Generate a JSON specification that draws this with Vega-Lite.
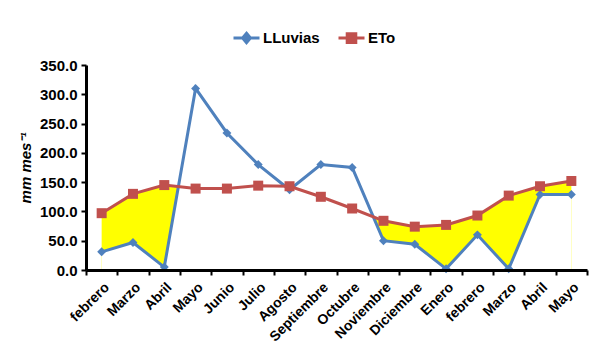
{
  "$schema": "https://vega.github.io/schema/vega-lite/v6.json",
  "width": 501,
  "height": 205,
  "autosize": "none",
  "padding": {"left": 86, "top": 65, "right": 11, "bottom": 93},
  "background": "white",
  "config": {"font": "Liberation Sans", "view": {"stroke": null}},
  "data": {
    "values": [
      {"idx": 0, "serie": "LLuvias", "value": 31}, {"idx": 0, "serie": "ETo", "value": 97},
      {"idx": 1, "serie": "LLuvias", "value": 47}, {"idx": 1, "serie": "ETo", "value": 130},
      {"idx": 2, "serie": "LLuvias", "value": 5}, {"idx": 2, "serie": "ETo", "value": 145},
      {"idx": 3, "serie": "LLuvias", "value": 310}, {"idx": 3, "serie": "ETo", "value": 139},
      {"idx": 4, "serie": "LLuvias", "value": 234}, {"idx": 4, "serie": "ETo", "value": 139},
      {"idx": 5, "serie": "LLuvias", "value": 180}, {"idx": 5, "serie": "ETo", "value": 144},
      {"idx": 6, "serie": "LLuvias", "value": 137}, {"idx": 6, "serie": "ETo", "value": 143},
      {"idx": 7, "serie": "LLuvias", "value": 180}, {"idx": 7, "serie": "ETo", "value": 125},
      {"idx": 8, "serie": "LLuvias", "value": 175}, {"idx": 8, "serie": "ETo", "value": 105},
      {"idx": 9, "serie": "LLuvias", "value": 50}, {"idx": 9, "serie": "ETo", "value": 84},
      {"idx": 10, "serie": "LLuvias", "value": 44}, {"idx": 10, "serie": "ETo", "value": 74},
      {"idx": 11, "serie": "LLuvias", "value": 2}, {"idx": 11, "serie": "ETo", "value": 77},
      {"idx": 12, "serie": "LLuvias", "value": 60}, {"idx": 12, "serie": "ETo", "value": 93},
      {"idx": 13, "serie": "LLuvias", "value": 2}, {"idx": 13, "serie": "ETo", "value": 127},
      {"idx": 14, "serie": "LLuvias", "value": 129}, {"idx": 14, "serie": "ETo", "value": 143},
      {"idx": 15, "serie": "LLuvias", "value": 129}, {"idx": 15, "serie": "ETo", "value": 152}
    ]
  },
  "encoding": {
    "x": {
      "field": "idx",
      "type": "ordinal",
      "scale": {"type": "band", "paddingInner": 0, "paddingOuter": 0},
      "axis": {
        "title": null,
        "labelExpr": "['febrero','Marzo','Abril','Mayo','Junio','Julio','Agosto','Septiembre','Octubre','Noviembre','Diciembre','Enero','febrero','Marzo','Abril','Mayo'][datum.value]",
        "labelAngle": -45,
        "labelFontSize": 14,
        "labelFontWeight": "bold",
        "labelColor": "black",
        "tickBand": "extent",
        "tickSize": 5,
        "tickWidth": 2,
        "tickColor": "black",
        "domainColor": "black",
        "domainWidth": 3,
        "labelPadding": 5,
        "zindex": 1
      }
    },
    "y": {
      "field": "value",
      "type": "quantitative",
      "scale": {"domain": [0, 350], "nice": false},
      "axis": {
        "values": [0, 50, 100, 150, 200, 250, 300, 350],
        "format": ".1f",
        "grid": false,
        "title": "mm mes⁻¹",
        "titleFontStyle": "italic",
        "titleFontWeight": "bold",
        "titleFontSize": 15,
        "titleColor": "black",
        "titlePadding": 6,
        "labelFontSize": 15,
        "labelFontWeight": "bold",
        "labelColor": "black",
        "labelPadding": 4,
        "tickSize": 5,
        "tickWidth": 2,
        "tickColor": "black",
        "domainColor": "black",
        "domainWidth": 3,
        "zindex": 1
      }
    }
  },
  "layer": [
    {
      "transform": [{"filter": "datum.serie == 'ETo'"}],
      "mark": {"type": "area", "color": "#FFFF00", "opacity": 1},
      "encoding": {}
    },
    {
      "transform": [{"filter": "datum.serie == 'LLuvias'"}],
      "mark": {"type": "area", "color": "white", "opacity": 1},
      "encoding": {}
    },
    {
      "mark": {"type": "line", "strokeWidth": 3},
      "encoding": {
        "color": {
          "field": "serie",
          "type": "nominal",
          "scale": {"domain": ["LLuvias", "ETo"], "range": ["#4F81BD", "#C0504D"]},
          "legend": {
            "title": null,
            "orient": "none",
            "legendX": 146,
            "legendY": -42,
            "direction": "horizontal",
            "labelFontSize": 15,
            "labelFontWeight": "bold",
            "labelColor": "black",
            "symbolSize": 676,
            "symbolStrokeWidth": 3,
            "columnPadding": 12,
            "labelOffset": 2,
            "encode": {
              "symbols": {
                "update": {
                  "shape": {"signal": "datum.value == 'LLuvias' ? 'M-1,0H1M0,-0.36L0.3,0L0,0.36L-0.3,0Z' : 'M-1,0H1M-0.33,-0.33H0.33V0.33H-0.33Z'"},
                  "fill": {"signal": "datum.value == 'LLuvias' ? '#4F81BD' : '#C0504D'"},
                  "stroke": {"signal": "datum.value == 'LLuvias' ? '#4F81BD' : '#C0504D'"},
                  "strokeWidth": {"value": 3}
                }
              }
            }
          }
        }
      }
    },
    {
      "transform": [{"filter": "datum.serie == 'LLuvias'"}],
      "mark": {"type": "point", "shape": "diamond", "filled": true, "size": 80, "color": "#4F81BD", "opacity": 1},
      "encoding": {}
    },
    {
      "transform": [{"filter": "datum.serie == 'ETo'"}],
      "mark": {"type": "point", "shape": "square", "filled": true, "size": 100, "color": "#C0504D", "opacity": 1},
      "encoding": {}
    }
  ]
}
